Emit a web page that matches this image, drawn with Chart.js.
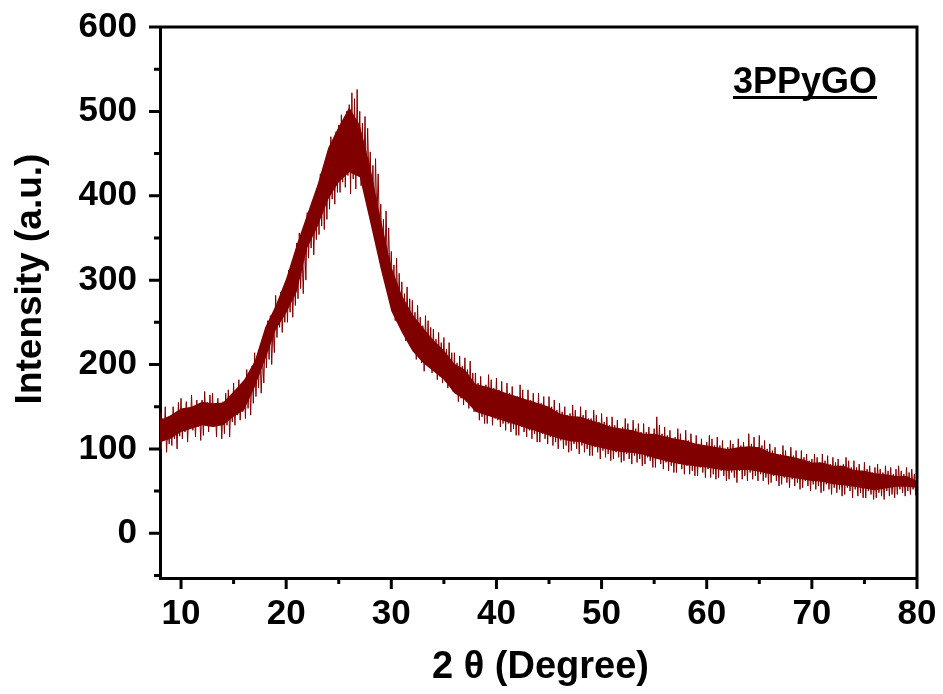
<!DOCTYPE html>
<html>
<head>
<meta charset="utf-8">
<script src="https://cdn.jsdelivr.net/npm/chart.js@4.4.1/dist/chart.umd.min.js"></script>
<style>
  body { margin: 0; background: #fff; }
</style>
</head>
<body>
<canvas id="xrd-chart" width="943" height="694"></canvas>
<script>
(function () {
    // scan settings of the diffractometer (2 theta, degrees)
    const scanStart = 8;
    const scanStep = 0.125;

    // noisy intensity, 8 readings per degree from 8 to 80
    const intensity = [
        144, 100, 136, 110, 150, 96, 130, 106,   138, 104, 150, 112, 142, 100, 155, 115,   // 8-9
        160, 112, 148, 120, 156, 108, 145, 124,  164, 122, 150, 114, 158, 126, 148, 110,   // 10-11
        158, 116, 168, 128, 155, 120, 164, 130,  166, 126, 152, 114, 160, 130, 150, 112,   // 12-13
        156, 118, 166, 128, 170, 114, 158, 132,  178, 128, 168, 140, 182, 134, 170, 144,   // 14-15
        180, 136, 194, 148, 186, 140, 198, 154,  214, 162, 204, 172, 220, 166, 210, 178,   // 16-17
        236, 196, 252, 206, 258, 200, 248, 214,  282, 232, 272, 244, 286, 238, 278, 250,   // 18-19
        298, 250, 312, 262, 318, 256, 306, 270,  344, 278, 356, 290, 336, 284, 352, 300,   // 20-21
        380, 326, 372, 338, 394, 330, 386, 348,  412, 354, 426, 364, 418, 360, 430, 372,   // 22-23
        452, 384, 470, 396, 460, 390, 476, 404,  484, 404, 496, 416, 488, 410, 500, 424,   // 24-25
        508, 402, 522, 420, 515, 408, 526, 434,  500, 412, 486, 424, 494, 408, 480, 416,   // 26-27
        452, 372, 436, 360, 444, 368, 426, 356,  390, 320, 372, 306, 382, 312, 362, 300,   // 28-29
        334, 264, 318, 252, 326, 258, 308, 246,  298, 238, 284, 228, 292, 234, 278, 224,   // 30-31
        276, 218, 262, 206, 270, 212, 256, 202,  246, 192, 258, 204, 252, 196, 244, 190,   // 32-33
        242, 194, 230, 182, 238, 186, 226, 178,  232, 180, 218, 172, 226, 176, 214, 168,   // 34-35
        214, 166, 202, 156, 210, 160, 198, 152,  208, 156, 194, 148, 204, 152, 190, 144,   // 36-37
        190, 144, 178, 134, 186, 138, 174, 130,  176, 130, 188, 140, 182, 128, 172, 136,   // 38-39
        184, 134, 170, 126, 180, 130, 166, 122,  178, 130, 166, 120, 174, 124, 162, 116,   // 40-41
        162, 116, 176, 126, 170, 120, 158, 114,  170, 122, 158, 112, 166, 118, 154, 108,   // 42-43
        166, 108, 154, 118, 162, 112, 150, 106,  162, 114, 150, 104, 158, 108, 146, 100,   // 44-45
        154, 110, 144, 100, 150, 104, 140, 96,   142, 98, 152, 106, 146, 100, 138, 94,     // 46-47
        150, 104, 140, 96, 146, 100, 136, 92,    136, 92, 146, 102, 140, 96, 132, 88,      // 48-49
        142, 98, 132, 90, 138, 94, 128, 86,      138, 88, 128, 96, 134, 90, 124, 84,       // 50-51
        126, 86, 136, 94, 130, 88, 122, 82,      134, 92, 124, 84, 130, 88, 120, 80,       // 52-53
        130, 82, 120, 90, 126, 86, 116, 78,      124, 78, 138, 88, 128, 82, 118, 76,       // 54-55
        126, 84, 116, 74, 122, 80, 112, 72,      114, 72, 124, 82, 118, 76, 110, 70,       // 56-57
        122, 80, 110, 70, 118, 74, 106, 68,      116, 68, 106, 78, 112, 72, 104, 66,       // 58-59
        108, 76, 116, 66, 112, 70, 104, 64,      114, 66, 104, 74, 110, 68, 100, 62,       // 60-61
        102, 64, 110, 72, 106, 66, 98, 60,       112, 74, 104, 64, 108, 68, 100, 62,       // 62-63
        118, 72, 106, 64, 114, 68, 102, 62,      116, 70, 104, 62, 110, 66, 100, 58,       // 64-65
        106, 60, 98, 68, 102, 62, 94, 56,        94, 58, 104, 66, 98, 60, 90, 54,          // 66-67
        102, 64, 92, 56, 98, 60, 88, 52,         98, 54, 90, 62, 94, 56, 86, 50,           // 68-69
        88, 58, 94, 52, 90, 56, 84, 48,          94, 50, 86, 58, 92, 52, 82, 46,           // 70-71
        90, 54, 84, 48, 88, 52, 80, 44,          82, 46, 90, 54, 86, 50, 78, 42,           // 72-73
        86, 52, 78, 44, 82, 48, 74, 42,          84, 42, 76, 50, 80, 46, 72, 40,           // 74-75
        78, 42, 82, 48, 76, 44, 72, 40,          80, 50, 74, 44, 78, 46, 70, 42,           // 76-77
        76, 46, 80, 52, 74, 48, 70, 44,          78, 50, 72, 46, 76, 52, 70, 45,           // 78-79
        60                                                                                 // 80
    ];

    // dense core of the noise band, one reading per degree from 8 to 80
    const coreLower = [
        108, 112, 120, 124, 128, 126, 128, 138, 146, 173, 206, 241, 261, 286, 338, 364,  // 8-23
        396, 416, 428, 422, 368, 313, 263, 238, 216, 202, 192, 182, 166, 158, 144, 140,  // 24-39
        136, 132, 128, 124, 120, 116, 112, 109, 108, 104, 101, 98, 96, 95, 93, 89,       // 40-55
        86, 83, 81, 79, 78, 76, 74, 75, 75, 73, 70, 68, 66, 64, 62, 61,                  // 56-71
        58, 57, 55, 53, 51, 53, 55, 55, 54                                               // 72-80
    ];
    const coreUpper = [
        134, 140, 148, 150, 156, 154, 155, 168, 182, 204, 244, 270, 302, 342, 378, 414,  // 8-23
        457, 482, 505, 484, 434, 372, 316, 282, 260, 244, 229, 217, 201, 194, 177, 174,  // 24-39
        170, 166, 162, 158, 154, 150, 142, 139, 138, 134, 130, 126, 124, 122, 118, 118,  // 40-55
        115, 112, 110, 106, 104, 102, 100, 102, 103, 102, 96, 93, 91, 88, 84, 84,        // 56-71
        80, 80, 75, 74, 71, 70, 68, 68, 62                                               // 72-80
    ];
    const coreStep = 1;

    const xMajorTicks = [10, 20, 30, 40, 50, 60, 70, 80];
    const xMinorTicks = [15, 25, 35, 45, 55, 65, 75];
    const yMajorTicks = [0, 100, 200, 300, 400, 500, 600];
    const yMinorTicks = [-50, 50, 150, 250, 350, 450, 550];

    const sampleLabel = '3PPyGO';
    const xTitle = '2 \u03b8 (Degree)';
    const yTitle = 'Intensity (a.u.)';

    const fontFamily = 'Arial, "Liberation Sans", sans-serif';
    const lineColor = '#800000';

    // frame, outward tick marks, axis titles and the sample tag
    const frameAndTicks = {
        id: 'frameAndTicks',
        afterDraw(chart) {
            const { ctx, chartArea: a, scales: { x, y } } = chart;
            ctx.save();
            ctx.strokeStyle = '#000';
            ctx.lineWidth = 3;
            ctx.beginPath();
            ctx.moveTo(a.left - 1.5, a.top);
            ctx.lineTo(a.right, a.top);
            ctx.lineTo(a.right, a.bottom + 1.5);
            yMajorTicks.forEach(v => {
                const p = y.getPixelForValue(v);
                ctx.moveTo(a.left - 11, p);
                ctx.lineTo(a.left, p);
            });
            yMinorTicks.forEach(v => {
                const p = y.getPixelForValue(v);
                ctx.moveTo(a.left - 6, p);
                ctx.lineTo(a.left, p);
            });
            xMajorTicks.forEach(v => {
                const p = x.getPixelForValue(v);
                ctx.moveTo(p, a.bottom);
                ctx.lineTo(p, a.bottom + 11);
            });
            xMinorTicks.forEach(v => {
                const p = x.getPixelForValue(v);
                ctx.moveTo(p, a.bottom);
                ctx.lineTo(p, a.bottom + 6);
            });
            ctx.stroke();

            ctx.fillStyle = '#000';
            ctx.textAlign = 'center';
            ctx.textBaseline = 'alphabetic';
            ctx.font = `bold 38px ${fontFamily}`;
            ctx.fillText(xTitle, (a.left + a.right) / 2 + 2, 678);

            ctx.font = `bold 37px ${fontFamily}`;
            ctx.save();
            ctx.translate(41, 279);
            ctx.rotate(-Math.PI / 2);
            ctx.fillText(yTitle, 0, 0);
            ctx.restore();

            ctx.textAlign = 'left';
            ctx.font = `bold 36px ${fontFamily}`;
            ctx.fillText(sampleLabel, 733, 93);
            const w = ctx.measureText(sampleLabel).width;
            ctx.fillRect(733, 96, w, 3);
            ctx.restore();
        }
    };

    const tickFont = { family: fontFamily, weight: 'bold', size: 35 };

    new Chart(document.getElementById('xrd-chart'), {
        type: 'line',
        data: {
            datasets: [{
                label: sampleLabel,
                data: intensity.map((v, i) => ({ x: scanStart + i * scanStep, y: v })),
                borderColor: lineColor,
                borderWidth: 1,
                pointRadius: 0,
                tension: 0,
                fill: false,
            }, {
                label: 'core-lower',
                data: coreLower.map((v, i) => ({ x: scanStart + i * coreStep, y: v })),
                borderWidth: 0,
                borderColor: lineColor,
                pointRadius: 0,
                fill: false,
            }, {
                label: 'core-upper',
                data: coreUpper.map((v, i) => ({ x: scanStart + i * coreStep, y: v })),
                borderWidth: 0,
                borderColor: lineColor,
                backgroundColor: lineColor,
                pointRadius: 0,
                fill: '-1',
            }]
        },
        options: {
            responsive: false,
            animation: false,
            events: [],
            layout: { padding: { top: 27, right: 26, left: 0, bottom: 0 } },
            plugins: {
                legend: { display: false },
                tooltip: { enabled: false },
            },
            scales: {
                x: {
                    type: 'linear',
                    min: 8,
                    max: 80,
                    afterFit: scale => {
                        scale.height = 116;
                        scale.paddingLeft = 0;
                        scale.paddingRight = 0;
                    },
                    afterBuildTicks: scale => { scale.ticks = xMajorTicks.map(v => ({ value: v })); },
                    grid: { display: false, drawTicks: false },
                    border: { display: true, color: '#000', width: 3 },
                    ticks: { color: '#000', font: tickFont, padding: 15, maxRotation: 0 },
                },
                y: {
                    type: 'linear',
                    min: -53,
                    max: 600,
                    afterFit: scale => {
                        scale.width = 160;
                        scale.paddingTop = 0;
                        scale.paddingBottom = 0;
                    },
                    afterBuildTicks: scale => { scale.ticks = yMajorTicks.map(v => ({ value: v })); },
                    grid: { display: false, drawTicks: false },
                    border: { display: true, color: '#000', width: 3 },
                    ticks: { color: '#000', font: tickFont, padding: 23 },
                },
            },
        },
        plugins: [frameAndTicks],
    });
})();
</script>
</body>
</html>
